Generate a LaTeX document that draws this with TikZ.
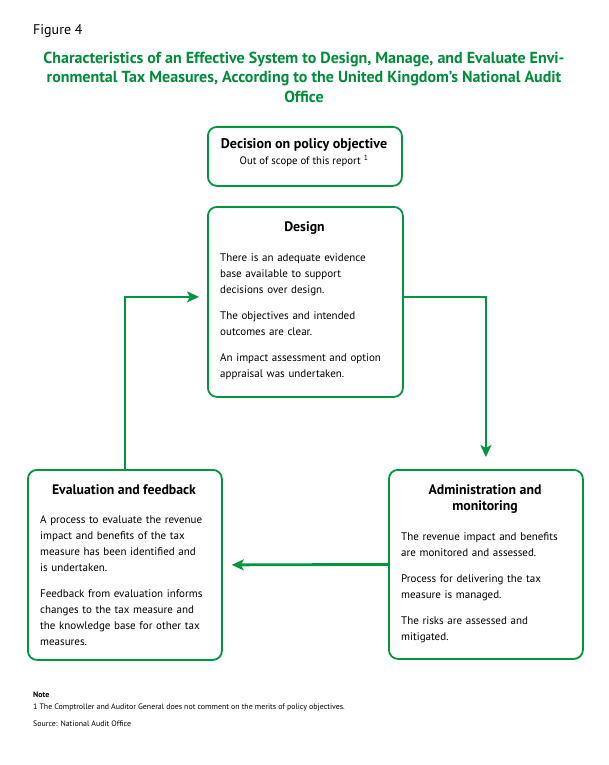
\documentclass[tikz,border=0pt]{standalone}
\usepackage{fontspec}
\setmainfont{PT Sans}
\usetikzlibrary{arrows.meta}
\definecolor{nao}{RGB}{0,150,62}
\definecolor{naotitle}{RGB}{0,140,58}
\begin{document}
\begin{tikzpicture}[x=1pt,y=-1pt,
  box/.style={draw=nao, line width=1.8pt, rounded corners=9pt, anchor=north west, inner sep=0pt, fill=none},
  head/.style={font=\bfseries\fontsize{13.8}{16}\selectfont, align=center, inner sep=0pt},
  body/.style={font=\fontsize{11}{16}\selectfont, align=left, anchor=north west, inner sep=0pt},
  flow/.style={draw=nao, line width=2.8pt, -{Stealth[length=12pt,width=11pt,inset=3pt]}}
]
\useasboundingbox (0,0) rectangle (609,765);

\node[anchor=base west, inner sep=0pt, font=\fontsize{14}{18}\selectfont] (fig) at (33,35) {Figure 4};
\node[align=center, inner sep=0pt, text=naotitle, font=\bfseries\fontsize{16}{19.5}\selectfont] (title) at (304,77)
  {Characteristics of an Effective System to Design, Manage, and Evaluate Envi-\\
   ronmental Tax Measures, According to the United Kingdom’s National Audit\\
   Office};

% boxes
\node[box, minimum width=194pt, minimum height=59pt] (decision) at (207,126) {};
\node[box, minimum width=195pt, minimum height=190pt] (design) at (207,206) {};
\node[box, minimum width=194pt, minimum height=190pt] (eval) at (27,469) {};
\node[box, minimum width=194pt, minimum height=189pt] (admin) at (388,469) {};

% decision text
\node[head, font=\bfseries\fontsize{14}{16}\selectfont] (dech) at (304,145) {Decision on policy objective};
\node[inner sep=0pt, font=\fontsize{10.8}{13}\selectfont] (decs) at (304,161) {Out of scope of this report \textsuperscript{1}};

% design text
\node[head] (desh) at (304.5,228) {Design};
\node[body, text width=170pt] (desb) at (220,254)
  {There is an adequate evidence\\ base available to support\\ decisions over design.\\[10pt]
   The objectives and intended\\ outcomes are clear.\\[10pt]
   An impact assessment and option\\ appraisal was undertaken.};

% evaluation text
\node[head] (evh) at (124,490) {Evaluation and feedback};
\node[body, text width=175pt] (evb) at (40,515)
  {A process to evaluate the revenue\\ impact and benefits of the tax\\ measure has been identified and\\ is undertaken.\\[10pt]
   Feedback from evaluation informs\\ changes to the tax measure and\\ the knowledge base for other tax\\ measures.};

% admin text
\node[head] (adh) at (485,499) {Administration and\\ monitoring};
\node[body, text width=175pt] (adb) at (401,533)
  {The revenue impact and benefits\\ are monitored and assessed.\\[10pt]
   Process for delivering the tax\\ measure is managed.\\[10pt]
   The risks are assessed and\\ mitigated.};

% connectors
\draw[flow] ([yshift=5pt]design.east) -| ([yshift=12pt]admin.north);
\draw[flow] (admin.west) -- ([xshift=9pt]eval.east);
\draw[flow] (eval.north) |- ([xshift=-8pt,yshift=5pt]design.west);

% notes
\node[anchor=base west, inner sep=0pt, font=\bfseries\fontsize{7.9}{8}\selectfont] (note) at (33,697) {Note};
\node[anchor=base west, inner sep=0pt, font=\fontsize{7.9}{8}\selectfont] (note1) at (33,709) {1 The Comptroller and Auditor General does not comment on the merits of policy objectives.};
\node[anchor=base west, inner sep=0pt, font=\fontsize{7.9}{8}\selectfont] (src) at (33,726) {Source: National Audit Office};
\end{tikzpicture}
\end{document}
